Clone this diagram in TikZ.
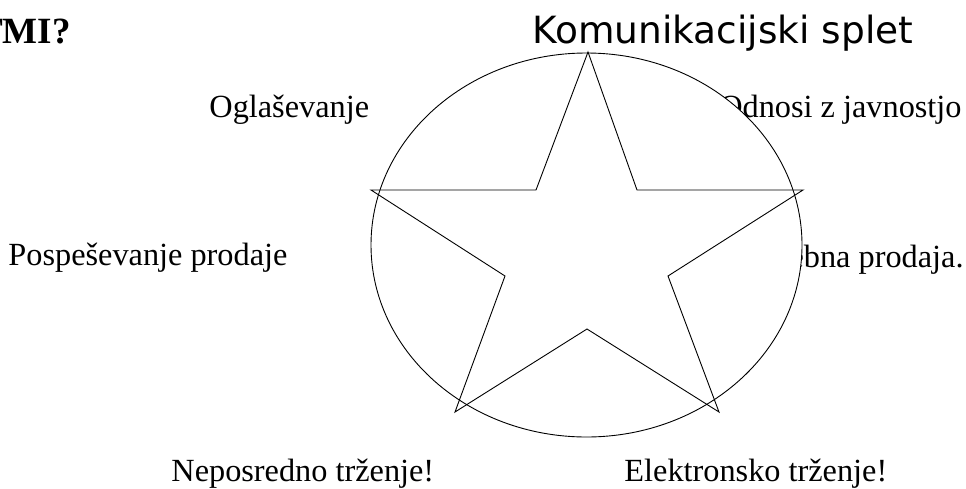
\documentclass[tikz,border=0pt]{standalone}
\usepackage{fontspec}
\setmainfont{Liberation Serif}
\newfontfamily\splettitle{DejaVu Sans}
\begin{document}
\begin{tikzpicture}[x=1pt, y=-1pt, line width=0.9pt,
        every node/.style={inner sep=0pt, font=\fontsize{32.3}{38}\selectfont}]
        \useasboundingbox (0,0) rectangle (966,488);
        \node[anchor=base east, font=\bfseries\fontsize{37}{42}\selectfont] (tmi) at (71,43) {TMI?};
        \node[anchor=base west, font=\splettitle\fontsize{37.5}{44}\selectfont] (naslov) at (532,43) {Komunikacijski splet};
        \node[anchor=base west] (ogl) at (209,117) {Oglaševanje};
        \node[anchor=base west] (pos) at (8,265) {Pospeševanje prodaje};
        \node[anchor=base west] (nep) at (171,481) {Neposredno trženje!};
        \node[anchor=base west] (ele) at (624,481) {Elektronsko trženje!};
        \node[anchor=base east] (odn) at (962,117) {Odnosi z javnostjo};
        \node[anchor=base east] (ose) at (964,267) {Osebna prodaja.};
        \draw[fill=white] (586.5,245) ellipse [x radius=215.5, y radius=192];
        \coordinate (T) at (588,52);
        \coordinate (TR) at (637,190);
        \coordinate (R) at (803,190);
        \coordinate (IR) at (668,276);
        \coordinate (BR) at (719,412);
        \coordinate (IB) at (587,329);
        \coordinate (BL) at (455,412);
        \coordinate (IL) at (505,276);
        \coordinate (L) at (371,190);
        \coordinate (TL) at (536,190);
        \draw (T)--(TR)--(R)--(IR)--(BR)--(IB)--(BL)--(IL)--(L)--(TL)--cycle;
    \end{tikzpicture}
\end{document}
